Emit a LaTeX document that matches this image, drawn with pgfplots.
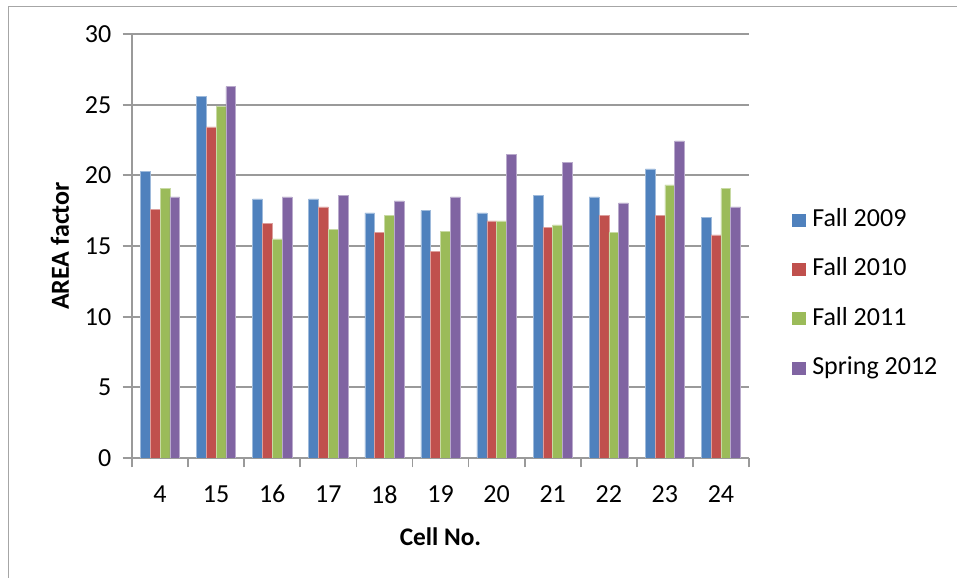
\documentclass[border=0pt]{standalone}
\usepackage{pgfplots}
\pgfplotsset{compat=1.18}
\usepackage{fontspec}
\setmainfont{Carlito}
\definecolor{c1}{HTML}{4F81BD}
\definecolor{c2}{HTML}{C0504D}
\definecolor{c3}{HTML}{9BBB59}
\definecolor{c4}{HTML}{8064A2}
\definecolor{gridc}{HTML}{9A9A9A}
\begin{document}
\begin{tikzpicture}[x=1pt,y=1pt]
\useasboundingbox (0,0) rectangle (717.75,433.5);
\draw[black!35, line width=1pt] (6.4,0) -- (6.4,428.6) -- (717.75,428.6);
\begin{axis}[
  at={(99pt,90pt)}, anchor=south west, scale only axis,
  width=462.75pt, height=318pt,
  ybar=0pt, bar width=7.35pt,
  xmin=-0.5, xmax=10.5, ymin=0, ymax=30,
  ytick={0,5,...,30},
  xtick={0,...,10},
  xticklabels={4,15,16,17,18,19,20,21,22,23,24},
  major x tick style={draw=none},
  minor xtick={-0.5,0.5,...,10.5},
  tick align=outside, major tick length=7pt, minor tick length=7pt,
  tick style={gridc, line width=1.3pt},
  axis x line*=bottom, axis y line*=left,
  axis line style={gridc, line width=1.5pt, -},
  ymajorgrids, grid style={gridc, line width=1.5pt},
  /pgf/number format/assume math mode=true,
  tick label style={font=\fontsize{19.5}{23}\selectfont},
  xticklabel style={yshift=-10pt},
  yticklabel style={xshift=-5pt},
  xlabel={Cell No.}, ylabel={AREA factor},
  every axis x label/.style={at={(axis description cs:0.5,-0.1863)}, anchor=center, font=\bfseries\fontsize{19}{22}\selectfont},
  every axis y label/.style={at={(axis description cs:-0.1167,0.5)}, rotate=90, anchor=center, font=\bfseries\fontsize{19.5}{22}\selectfont},
  legend style={at={(axis description cs:1.0697,0.3856)}, anchor=west, draw=none, fill=none, inner sep=0pt,
    font=\fontsize{19.5}{23}\selectfont, row sep=21pt, column sep=4.5pt,
    nodes={inner sep=0pt, text height=12.5pt, text depth=3.5pt, anchor=base west}},
  legend cell align=left,
  legend image code/.code={\fill[#1,draw=none] (0pt,0pt) rectangle (10.5pt,9.75pt);},
]
\addplot[fill=c1, draw=c1!55!white, line width=0.4pt] coordinates {(0,20.3) (1,25.57) (2,18.34) (3,18.34) (4,17.35) (5,17.5) (6,17.35) (7,18.6) (8,18.47) (9,20.45) (10,17.04)};
\addplot[fill=c2, draw=c2!55!white, line width=0.4pt] coordinates {(0,17.6) (1,23.43) (2,16.62) (3,17.77) (4,15.94) (5,14.64) (6,16.78) (7,16.33) (8,17.19) (9,17.19) (10,15.78)};
\addplot[fill=c3, draw=c3!55!white, line width=0.4pt] coordinates {(0,19.05) (1,24.9) (2,15.5) (3,16.2) (4,17.19) (5,16.04) (6,16.78) (7,16.49) (8,15.94) (9,19.33) (10,19.05)};
\addplot[fill=c4, draw=c4!55!white, line width=0.4pt] coordinates {(0,18.47) (1,26.27) (2,18.47) (3,18.6) (4,18.2) (5,18.47) (6,21.47) (7,20.92) (8,18.05) (9,22.44) (10,17.77)};
\legend{Fall 2009, Fall 2010, Fall 2011, Spring 2012}
\end{axis}
\end{tikzpicture}
\end{document}
